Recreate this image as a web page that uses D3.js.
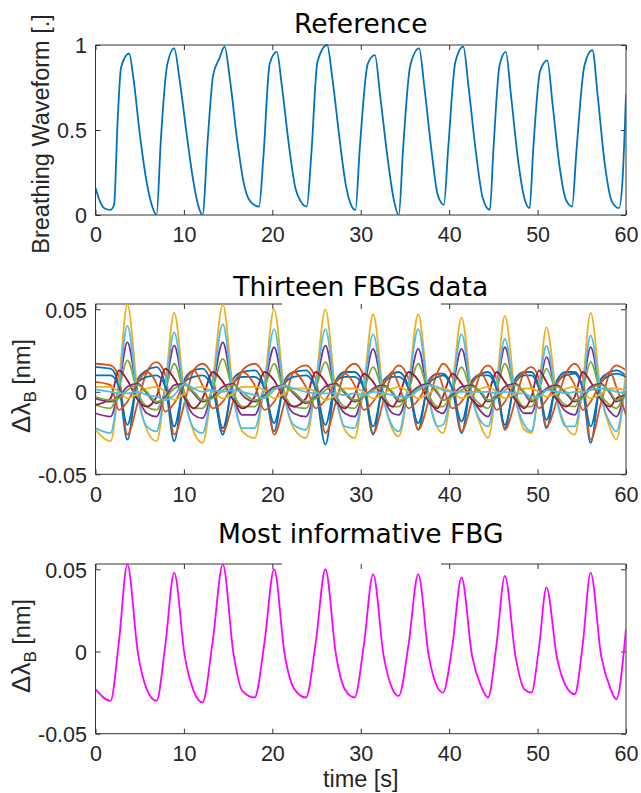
<!DOCTYPE html>
<html>
<head>
<meta charset="utf-8">
<script src="https://cdn.jsdelivr.net/npm/d3@7/dist/d3.min.js"></script>
<style>
  html, body { margin: 0; padding: 0; background: #fff; }
  svg { display: block; }
  .tick text { font-family: "Liberation Sans", Arial, sans-serif; font-size: 21.5px; fill: #262626; }
  .ttl { font-family: "DejaVu Sans", sans-serif; font-size: 26.5px; fill: #000; }
  .lbl { font-family: "Liberation Sans", Arial, sans-serif; font-size: 23.5px; fill: #262626; }
</style>
</head>
<body>
<svg id="chart" width="641" height="793"></svg>
<script>
// ---- time axis shared by all panels ----
const timeTicks = [0, 10, 20, 30, 40, 50, 60];

// ---- panel 1: reference breathing waveform ----
const refTime = [0, 0.5, 1.0, 1.7, 2.1, 2.5, 2.9, 3.8, 4.3, 5.0, 5.7, 6.3, 6.9,
  7.4, 8.1, 8.9, 9.5, 10.3, 11.0, 11.6, 12.1,
  12.7, 13.3, 14.0, 14.6, 15.2, 16.0, 16.8, 17.5, 18.5,
  19.0, 19.7, 20.5, 21.1, 21.9, 22.6, 23.2, 23.9,
  24.4, 25.1, 26.2, 26.8, 27.6, 28.3, 28.9, 29.4,
  29.9, 30.8, 31.6, 32.2, 33.0, 33.7, 34.3,
  34.8, 35.6, 36.6, 37.2, 38.0, 38.7, 39.4,
  39.9, 40.7, 41.6, 42.2, 43.0, 43.8, 44.6,
  45.0, 45.7, 46.4, 47.0, 47.8, 48.5, 49.1,
  49.5, 50.3, 51.1, 51.7, 52.5, 53.2, 53.9,
  54.4, 55.3, 56.2, 56.8, 57.6, 58.4, 59.2, 59.6, 60.0];
const refValue = [0.16, 0.08, 0.04, 0.03, 0.06, 0.55, 0.87, 0.95, 0.80, 0.48, 0.22, 0.07, 0.00,
  0.45, 0.88, 0.98, 0.80, 0.48, 0.22, 0.06, 0.00,
  0.45, 0.82, 0.92, 0.99, 0.80, 0.45, 0.18, 0.08, 0.05,
  0.35, 0.89, 0.96, 0.75, 0.40, 0.16, 0.08, 0.05,
  0.35, 0.90, 1.00, 0.80, 0.45, 0.18, 0.06, 0.03,
  0.40, 0.89, 0.94, 0.70, 0.35, 0.10, 0.00,
  0.40, 0.88, 0.98, 0.75, 0.38, 0.12, 0.06,
  0.40, 0.90, 0.99, 0.75, 0.38, 0.10, 0.03,
  0.38, 0.88, 0.96, 0.70, 0.32, 0.10, 0.04,
  0.38, 0.85, 0.91, 0.65, 0.28, 0.09, 0.05,
  0.38, 0.88, 0.97, 0.70, 0.30, 0.08, 0.04, 0.20, 0.71];
const refTicks = [0, 0.5, 1];
const refTickLabels = ["0", "0.5", "1"];

// ---- panels 2 and 3: FBG wavelength shifts [nm] ----
const fbgTime = [0,
  1.7, 2.65, 3.6, 4.8, 5.8,
  6.9, 7.9, 8.9, 10.1, 11.1,
  12.1, 13.25, 14.4, 15.6, 16.6,
  18.0, 19.1, 20.2, 21.4, 22.4,
  23.8, 24.9, 26.0, 27.2, 28.2,
  29.3, 30.35, 31.4, 32.6, 33.6,
  34.3, 35.4, 36.5, 37.7, 38.7,
  39.3, 40.35, 41.4, 42.6, 43.6,
  44.4, 45.35, 46.3, 47.5, 48.5,
  49.3, 50.15, 51.0, 52.2, 53.2,
  54.2, 55.1, 56.0, 57.2, 58.2,
  58.9, 60];

const fbg1 = [0.015,
  0.014, 0.004, -0.029, 0.008, 0.013,
  0.015, 0.004, -0.030, 0.008, 0.013,
  0.014, 0.003, -0.026, 0.008, 0.012,
  0.013, 0.003, -0.024, 0.007, 0.012,
  0.013, 0.002, -0.032, 0.007, 0.012,
  0.012, 0.003, -0.026, 0.007, 0.011,
  0.012, 0.003, -0.023, 0.007, 0.011,
  0.011, 0.002, -0.025, 0.007, 0.011,
  0.012, 0.003, -0.022, 0.008, 0.012,
  0.012, 0.003, -0.022, 0.007, 0.012,
  0.012, 0.002, -0.031, 0.008, 0.012,
  0.013, 0.010];
const fbg2 = [0.017,
  0.016, 0.009, -0.026, -0.006, 0.012,
  0.018, 0.010, -0.026, -0.006, 0.013,
  0.017, 0.009, -0.024, -0.005, 0.013,
  0.017, 0.009, -0.026, -0.006, 0.012,
  0.016, 0.008, -0.025, -0.006, 0.012,
  0.017, 0.009, -0.025, -0.005, 0.012,
  0.016, 0.008, -0.023, -0.005, 0.012,
  0.017, 0.009, -0.024, -0.005, 0.012,
  0.016, 0.008, -0.023, -0.005, 0.012,
  0.015, 0.008, -0.021, -0.005, 0.011,
  0.017, 0.009, -0.029, -0.006, 0.012,
  0.016, 0.013];
// most informative grating
const fbg3 = [-0.023,
  -0.030, 0.006, 0.053, -0.001, -0.023,
  -0.030, 0.004, 0.048, -0.003, -0.024,
  -0.031, 0.006, 0.053, -0.001, -0.024,
  -0.028, 0.005, 0.050, -0.002, -0.022,
  -0.028, 0.005, 0.050, -0.002, -0.023,
  -0.028, 0.004, 0.047, -0.003, -0.023,
  -0.027, 0.004, 0.047, -0.003, -0.022,
  -0.025, 0.003, 0.045, -0.003, -0.021,
  -0.028, 0.004, 0.046, -0.003, -0.023,
  -0.025, 0.002, 0.039, -0.004, -0.021,
  -0.026, 0.004, 0.048, -0.003, -0.022,
  -0.029, 0.014];
const fbg4 = [-0.013,
  -0.015, 0.003, 0.030, -0.002, -0.013,
  -0.015, 0.002, 0.028, -0.003, -0.014,
  -0.016, 0.003, 0.030, -0.002, -0.014,
  -0.014, 0.003, 0.027, -0.003, -0.013,
  -0.015, 0.003, 0.028, -0.003, -0.013,
  -0.015, 0.002, 0.026, -0.003, -0.013,
  -0.014, 0.002, 0.026, -0.003, -0.012,
  -0.013, 0.002, 0.026, -0.003, -0.012,
  -0.015, 0.002, 0.027, -0.003, -0.013,
  -0.013, 0.001, 0.021, -0.003, -0.012,
  -0.014, 0.002, 0.027, -0.003, -0.012,
  -0.015, 0.004];
const fbg5 = [-0.008,
  -0.010, 0.002, 0.019, -0.001, -0.009,
  -0.011, 0.001, 0.017, -0.002, -0.010,
  -0.010, 0.002, 0.020, -0.001, -0.009,
  -0.009, 0.002, 0.017, -0.002, -0.009,
  -0.010, 0.002, 0.018, -0.002, -0.009,
  -0.010, 0.001, 0.015, -0.002, -0.009,
  -0.009, 0.001, 0.017, -0.002, -0.009,
  -0.009, 0.001, 0.015, -0.002, -0.008,
  -0.010, 0.001, 0.017, -0.002, -0.009,
  -0.009, 0.001, 0.014, -0.002, -0.008,
  -0.009, 0.001, 0.018, -0.002, -0.008,
  -0.010, 0.003];
const fbg6 = [-0.022,
  -0.025, 0.004, 0.040, -0.004, -0.021,
  -0.024, 0.003, 0.036, -0.005, -0.022,
  -0.025, 0.004, 0.041, -0.004, -0.022,
  -0.022, 0.004, 0.038, -0.004, -0.020,
  -0.023, 0.004, 0.038, -0.004, -0.021,
  -0.022, 0.003, 0.035, -0.005, -0.021,
  -0.024, 0.004, 0.038, -0.004, -0.021,
  -0.020, 0.003, 0.035, -0.004, -0.018,
  -0.021, 0.003, 0.032, -0.005, -0.020,
  -0.024, 0.002, 0.028, -0.006, -0.021,
  -0.021, 0.003, 0.034, -0.004, -0.019,
  -0.024, 0.008];
const fbg7 = [-0.008,
  -0.004, 0.013, 0.007, -0.005, -0.009,
  -0.003, 0.014, 0.008, -0.004, -0.010,
  -0.004, 0.012, 0.006, -0.005, -0.010,
  -0.003, 0.012, 0.007, -0.005, -0.009,
  -0.004, 0.012, 0.006, -0.006, -0.010,
  -0.002, 0.011, 0.006, -0.005, -0.009,
  -0.003, 0.012, 0.007, -0.006, -0.010,
  -0.003, 0.011, 0.005, -0.005, -0.009,
  -0.002, 0.012, 0.006, -0.005, -0.010,
  -0.003, 0.013, 0.006, -0.005, -0.009,
  -0.003, 0.012, 0.006, -0.005, -0.009,
  -0.004, -0.002];
const fbg8 = [0.010,
  0.010, 0.003, -0.020, 0.006, 0.009,
  0.010, 0.003, -0.021, 0.006, 0.009,
  0.010, 0.002, -0.022, 0.005, 0.009,
  0.009, 0.002, -0.019, 0.005, 0.009,
  0.010, 0.002, -0.020, 0.006, 0.009,
  0.009, 0.002, -0.021, 0.005, 0.009,
  0.009, 0.002, -0.019, 0.005, 0.009,
  0.010, 0.002, -0.018, 0.006, 0.010,
  0.010, 0.002, -0.020, 0.006, 0.010,
  0.010, 0.002, -0.017, 0.006, 0.010,
  0.011, 0.002, -0.021, 0.006, 0.010,
  0.011, 0.009];
const fbg9 = [0.006,
  0.004, -0.011, -0.006, 0.006, 0.012,
  0.005, -0.012, -0.007, 0.006, 0.013,
  0.004, -0.010, -0.006, 0.005, 0.012,
  0.004, -0.011, -0.006, 0.006, 0.012,
  0.003, -0.010, -0.005, 0.006, 0.011,
  0.004, -0.011, -0.006, 0.005, 0.012,
  0.004, -0.010, -0.005, 0.006, 0.011,
  0.003, -0.010, -0.006, 0.005, 0.011,
  0.004, -0.011, -0.006, 0.006, 0.012,
  0.003, -0.010, -0.005, 0.005, 0.011,
  0.004, -0.011, -0.006, 0.006, 0.012,
  0.003, -0.014];
const fbg10 = [0.003,
  0.003, 0.000, -0.004, -0.001, 0.002,
  0.003, 0.000, -0.005, -0.001, 0.002,
  0.003, 0.000, -0.004, -0.001, 0.003,
  0.003, 0.001, -0.004, -0.001, 0.002,
  0.002, 0.000, -0.005, -0.002, 0.002,
  0.002, 0.000, -0.004, -0.001, 0.002,
  0.003, 0.000, -0.004, -0.001, 0.002,
  0.002, 0.000, -0.004, -0.001, 0.002,
  0.003, 0.000, -0.004, -0.001, 0.002,
  0.002, 0.000, -0.003, -0.001, 0.002,
  0.003, 0.000, -0.004, -0.001, 0.002,
  0.002, 0.001];
const fbg11 = [-0.004,
  -0.006, -0.003, 0.003, 0.005, -0.001,
  -0.007, -0.003, 0.004, 0.005, -0.001,
  -0.006, -0.003, 0.003, 0.005, -0.002,
  -0.006, -0.002, 0.003, 0.004, -0.001,
  -0.007, -0.003, 0.003, 0.005, -0.001,
  -0.006, -0.003, 0.002, 0.004, -0.001,
  -0.006, -0.002, 0.003, 0.005, -0.001,
  -0.005, -0.002, 0.003, 0.004, -0.001,
  -0.006, -0.003, 0.003, 0.005, -0.001,
  -0.006, -0.002, 0.002, 0.004, -0.001,
  -0.006, -0.003, 0.003, 0.005, -0.001,
  -0.006, -0.002];
const fbg12 = [-0.003,
  -0.005, -0.004, 0.001, 0.004, 0.000,
  -0.006, -0.004, 0.002, 0.004, 0.000,
  -0.005, -0.004, 0.001, 0.004, 0.000,
  -0.005, -0.003, 0.002, 0.003, 0.000,
  -0.006, -0.004, 0.001, 0.004, 0.000,
  -0.005, -0.003, 0.001, 0.003, 0.000,
  -0.005, -0.003, 0.002, 0.004, 0.000,
  -0.005, -0.003, 0.001, 0.003, 0.000,
  -0.005, -0.004, 0.001, 0.004, 0.000,
  -0.005, -0.003, 0.001, 0.003, 0.000,
  -0.005, -0.004, 0.002, 0.004, 0.000,
  -0.005, -0.002];
const fbg13 = [0.0015,
  0.000, -0.001, -0.001, 0.000, -0.002,
  -0.003, -0.005, -0.002, 0.005, 0.002,
  0.000, 0.001, 0.000, 0.001, 0.000,
  -0.002, -0.004, 0.001, 0.004, 0.002,
  0.000, -0.001, -0.001, -0.001, -0.002,
  -0.001, -0.002, 0.000, -0.001, -0.002,
  -0.003, -0.003, 0.001, 0.004, 0.003,
  0.001, 0.000, 0.000, 0.000, 0.000,
  0.000, -0.001, 0.000, -0.001, -0.001,
  -0.003, -0.003, 0.001, 0.000, -0.001,
  0.000, 0.000, 0.001, 0.002, 0.001,
  0.000, -0.001];

const fbgSeries = [fbg1, fbg2, fbg3, fbg4, fbg5, fbg6, fbg7, fbg8, fbg9, fbg10, fbg11, fbg12, fbg13];
const bestFbg = fbg3;
const fbgTicks = [-0.05, 0, 0.05];
const fbgTickLabels = ["-0.05", "0", "0.05"];

// MATLAB-style default line colour order
const colorOrder = ["#0072BD", "#D95319", "#EDB120", "#7E2F8E", "#77AC30", "#4DBEEE", "#A2142F"];

// ---- layout ----
const svg = d3.select("#chart");
const plotLeft = 95.5, plotRight = 626;
const axisColor = "#333333";
const lineWidth = 1.8;

const x = d3.scaleLinear().domain([0, 60]).range([plotLeft, plotRight]);
const line = (yScale) => d3.line()
  .x(d => x(d[0])).y(d => yScale(d[1]))
  .curve(d3.curveMonotoneX);

function panel(opts) {
  const { top, bottom, yDomain, yTicks, yTickLabels, title, titleY, topGap, id } = opts;
  const y = d3.scaleLinear().domain(yDomain).range([bottom, top]);
  const g = svg.append("g");

  g.append("clipPath").attr("id", id)
    .append("rect").attr("x", plotLeft).attr("y", top - 1)
    .attr("width", plotRight - plotLeft).attr("height", bottom - top + 1);

  // tick marks (inward) and labels
  const xb = g.append("g").attr("transform", `translate(0,${bottom})`)
    .call(d3.axisBottom(x).tickValues(timeTicks).tickSizeInner(-5).tickSizeOuter(0)
      .tickPadding(12).tickFormat(d3.format("d")));
  const xt = g.append("g").attr("transform", `translate(0,${top})`)
    .call(d3.axisTop(x).tickValues(timeTicks).tickSizeInner(-5).tickSizeOuter(0).tickFormat(""));
  const yl = g.append("g").attr("transform", `translate(${plotLeft},0)`)
    .call(d3.axisLeft(y).tickValues(yTicks).tickSizeInner(-5).tickSizeOuter(0)
      .tickPadding(8.5).tickFormat((d, i) => yTickLabels[i]));
  const yr = g.append("g").attr("transform", `translate(${plotRight},0)`)
    .call(d3.axisRight(y).tickValues(yTicks).tickSizeInner(-5).tickSizeOuter(0).tickFormat(""));
  [xb, xt, yl, yr].forEach(a => {
    a.select(".domain").remove();
    a.selectAll(".tick line").attr("stroke", axisColor);
    a.attr("font-family", null).attr("font-size", null);
  });
  yl.selectAll(".tick text").attr("dy", "0.36em");

  // box
  const box = g.append("g").attr("stroke", axisColor).attr("stroke-width", 1).attr("fill", "none");
  box.append("line").attr("x1", plotLeft).attr("x2", plotLeft).attr("y1", top).attr("y2", bottom);
  box.append("line").attr("x1", plotRight).attr("x2", plotRight).attr("y1", top).attr("y2", bottom);
  box.append("line").attr("x1", plotLeft).attr("x2", plotRight).attr("y1", bottom).attr("y2", bottom);
  if (topGap) {
    box.append("line").attr("x1", plotLeft).attr("x2", topGap[0]).attr("y1", top).attr("y2", top);
    box.append("line").attr("x1", topGap[1]).attr("x2", plotRight).attr("y1", top).attr("y2", top);
  } else {
    box.append("line").attr("x1", plotLeft).attr("x2", plotRight).attr("y1", top).attr("y2", top);
  }

  g.append("text").attr("class", "ttl")
    .attr("x", (plotLeft + plotRight) / 2).attr("y", titleY)
    .attr("text-anchor", "middle").text(title);

  const lines = g.append("g").attr("clip-path", `url(#${id})`);
  return { y, g, lines };
}

// Panel 1: reference
const p1 = panel({ id: "clip1", top: 45, bottom: 215, yDomain: [0, 1],
  yTicks: refTicks, yTickLabels: refTickLabels, title: "Reference", titleY: 33 });
p1.lines.append("path")
  .datum(refTime.map((t, i) => [t, refValue[i]]))
  .attr("fill", "none").attr("stroke", colorOrder[0]).attr("stroke-width", lineWidth)
  .attr("d", line(p1.y));
p1.g.append("text").attr("class", "lbl")
  .attr("transform", `translate(49,134) rotate(-90)`)
  .attr("text-anchor", "middle").text("Breathing Waveform [.]");

// Panel 2: all gratings
const fbgDomain = [-0.05, 0.0532];
const p2 = panel({ id: "clip2", top: 304, bottom: 474.3, yDomain: fbgDomain,
  yTicks: fbgTicks, yTickLabels: fbgTickLabels, title: "Thirteen FBGs data", titleY: 296,
  topGap: [282, 441] });
fbgSeries.forEach((s, k) => {
  p2.lines.append("path")
    .datum(fbgTime.map((t, i) => [t, s[i]]))
    .attr("fill", "none").attr("stroke", colorOrder[k % colorOrder.length])
    .attr("stroke-width", lineWidth).attr("d", line(p2.y));
});

// Panel 3: most informative grating
const p3 = panel({ id: "clip3", top: 564, bottom: 733.7, yDomain: fbgDomain,
  yTicks: fbgTicks, yTickLabels: fbgTickLabels, title: "Most informative FBG", titleY: 543,
  topGap: [282, 441] });
p3.lines.append("path")
  .datum(fbgTime.map((t, i) => [t, bestFbg[i]]))
  .attr("fill", "none").attr("stroke", "#FF00FF").attr("stroke-width", lineWidth)
  .attr("d", line(p3.y));

// y labels with subscript
function deltaLabel(g, cy) {
  const t = g.append("text").attr("class", "lbl")
    .attr("transform", `translate(30,${cy}) rotate(-90)`)
    .attr("text-anchor", "middle");
  t.append("tspan").attr("font-size", 26).text("Δλ");
  t.append("tspan").attr("dy", 6).attr("font-size", 17).text("B");
  t.append("tspan").attr("dy", -6).text(" [nm]");
}
deltaLabel(p2.g, 386);
deltaLabel(p3.g, 646);

p3.g.append("text").attr("class", "lbl")
  .attr("x", (plotLeft + plotRight) / 2).attr("y", 787)
  .attr("font-size", 22).attr("text-anchor", "middle").text("time [s]");
</script>
</body>
</html>
